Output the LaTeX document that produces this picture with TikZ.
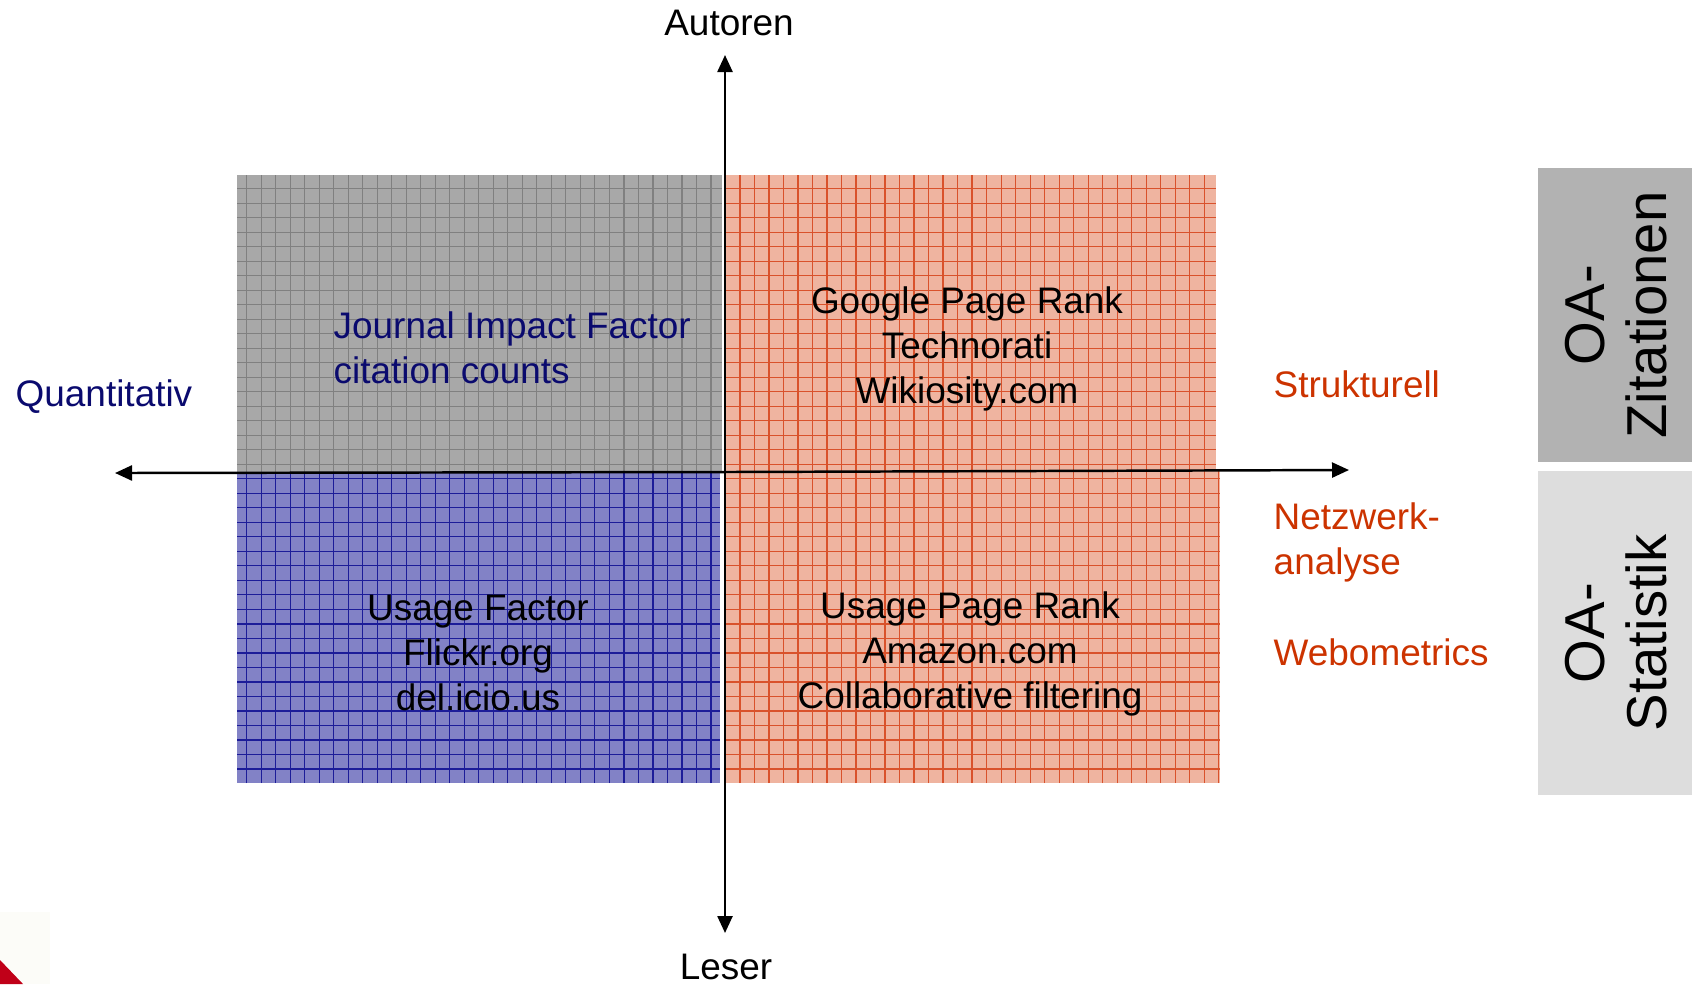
\documentclass[tikz,border=0pt]{standalone}
\usepackage{fontspec}
\setmainfont{Liberation Sans}
\usetikzlibrary{arrows.meta}
\definecolor{navytxt}{HTML}{0A0A6E}
\definecolor{redtxt}{HTML}{CC3300}
\definecolor{grayfill}{HTML}{A8A8A8}
\definecolor{graygrid}{HTML}{808080}
\definecolor{orfill}{HTML}{EFB4A0}
\definecolor{orgrid}{HTML}{D9522C}
\definecolor{blfill}{HTML}{8282C6}
\definecolor{blgrid}{HTML}{1C1C99}
\definecolor{boxdark}{HTML}{B2B2B2}
\definecolor{boxlight}{HTML}{DDDDDD}
\definecolor{cornerred}{HTML}{C00018}
\definecolor{cornerpale}{HTML}{FCFCF8}
\begin{document}
\begin{tikzpicture}[x=0.01cm,y=-0.01cm,
  lbl/.style={font=\fontsize{10.5}{12.8}\selectfont, inner sep=0pt},
  side/.style={font=\fontsize{16}{17.6}\selectfont, inner sep=0pt, rotate=90, align=center},
  axis/.style={line width=0.7pt, -{Triangle[length=0.17cm,width=0.15cm]}},
  gridline/.style={line width=0.35pt, step=0.145cm}]
\useasboundingbox (0,0) rectangle (1692,984);
% quadrants
\fill[grayfill] (237,175) rectangle (722,472);
\draw[gridline, graygrid] (237,175) grid (722,472);
\fill[orfill] (725,175) rectangle (1216,471);
\draw[gridline, orgrid] (725,175) grid (1216,471);
\fill[blfill] (237,472) rectangle (720,783);
\draw[gridline, blgrid] (237,472) grid (720,783);
\fill[orfill] (725,471) rectangle (1220,783);
\draw[gridline, orgrid] (725,471) grid (1220,783);
% side boxes
\fill[boxdark] (1538,168) rectangle (1692,462);
\fill[boxlight] (1538,471) rectangle (1692,795);
\node[side] (oaz) at (1616,315) {OA-\\Zitationen};
\node[side] (oas) at (1616,633) {OA-\\Statistik};
% corner mark
\fill[cornerpale] (0,912) rectangle (50,984);
\fill[cornerred] (0,960) -- (23,984) -- (0,984) -- cycle;
% axes
\coordinate (xl) at (115,473);
\coordinate (xr) at (1349,470);
\coordinate (yt) at (725,55);
\coordinate (yb) at (725,933);
\coordinate (o) at (725,472);
\draw[axis] (o) -- (xl);
\draw[axis] (o) -- (xr);
\draw[axis] (o) -- (yt);
\draw[axis] (o) -- (yb);
% axis labels
\node[lbl] (autoren) at (729,23) {Autoren};
\node[lbl] (leser) at (726,967) {Leser};
\node[lbl, text=navytxt, anchor=west] (quant) at (15,397) {Quantitativ};
% quadrant texts
\node[lbl, text=navytxt, align=left, anchor=west] (jif) at (333,348) {Journal Impact Factor\\citation counts};
\node[lbl, align=center] (gpr) at (967,349) {Google Page Rank\\Technorati\\Wikiosity.com};
\node[lbl, align=center] (uf) at (478,653) {Usage Factor\\Flickr.org\\del.icio.us};
\node[lbl, align=center] (upr) at (970,654) {Usage Page Rank\\Amazon.com\\Collaborative filtering};
% right labels
\node[lbl, text=redtxt, anchor=west] (strukt) at (1273,384) {Strukturell};
\node[lbl, text=redtxt, align=left, anchor=west] (netz) at (1273,542) {Netzwerk-\\analyse};
\node[lbl, text=redtxt, anchor=west] (webo) at (1273,652) {Webometrics};
\end{tikzpicture}
\end{document}
